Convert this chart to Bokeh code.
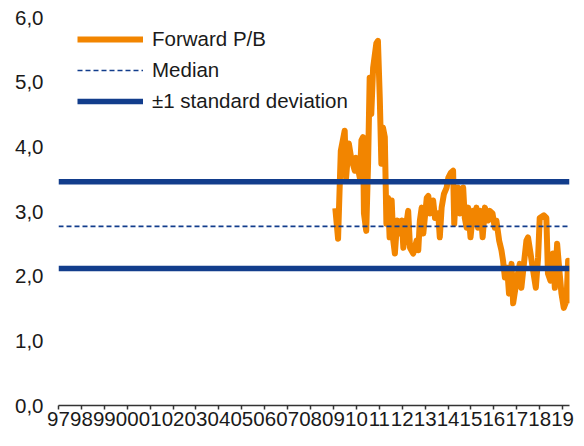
from bokeh.plotting import figure
from bokeh.models import FixedTicker, Legend, LegendItem
from bokeh.embed import file_html
from bokeh.resources import INLINE

# ---- data ----
years = [2009.08, 2009.20, 2009.32, 2009.49, 2009.55, 2009.67, 2009.77, 2009.93, 2009.98,
         2010.15, 2010.22, 2010.29, 2010.33, 2010.43, 2010.51, 2010.58, 2010.65, 2010.73,
         2010.87, 2010.94, 2011.02, 2011.09, 2011.16, 2011.24, 2011.31, 2011.38, 2011.45,
         2011.54, 2011.61, 2011.68, 2011.78, 2011.90, 2011.98, 2012.05, 2012.16, 2012.26,
         2012.34, 2012.48, 2012.63, 2012.70, 2012.77, 2012.85, 2012.92, 2013.07, 2013.14,
         2013.21, 2013.35, 2013.43, 2013.57, 2013.64, 2013.72, 2013.82, 2013.94, 2014.01,
         2014.12, 2014.22, 2014.27, 2014.34, 2014.44, 2014.52, 2014.66, 2014.73, 2014.81,
         2014.88, 2014.98, 2015.10, 2015.17, 2015.24, 2015.31, 2015.42, 2015.51, 2015.61,
         2015.75, 2015.82, 2015.94, 2016.04, 2016.11, 2016.23, 2016.33, 2016.40, 2016.48,
         2016.58, 2016.66, 2016.77, 2016.84, 2016.99, 2017.13, 2017.20, 2017.31, 2017.42,
         2017.49, 2017.60, 2017.71, 2017.83, 2017.93, 2018.00, 2018.18, 2018.29, 2018.36,
         2018.47, 2018.58, 2018.66, 2018.76, 2018.87, 2018.95, 2019.05, 2019.17, 2019.24,
         2019.28]
forward_pb = [3.05, 2.58, 3.94, 4.25, 3.52, 4.05, 3.83, 3.63, 3.83,
              3.52, 4.10, 4.15, 2.97, 2.70, 3.74, 5.07, 4.51, 5.22,
              5.60, 5.64, 4.76, 3.74, 4.30, 4.15, 2.81, 3.21, 2.60,
              3.17, 2.55, 2.35, 2.86, 2.66, 2.86, 2.44, 2.75, 3.01,
              2.44, 2.35, 2.55, 2.40, 2.86, 3.06, 2.66, 3.21, 3.24,
              2.97, 3.17, 2.90, 2.97, 2.60, 3.06, 3.27, 3.37, 3.52,
              3.60, 3.63, 2.81, 3.27, 3.37, 2.97, 3.37, 2.90, 2.75,
              3.06, 2.60, 3.01, 2.86, 3.06, 2.75, 3.01, 2.60, 3.06,
              2.86, 3.01, 2.97, 2.75, 2.86, 2.55, 2.40, 2.24, 1.98,
              2.13, 1.73, 2.19, 1.58, 1.93, 2.19, 1.82, 2.19, 2.55,
              2.60, 2.35, 2.09, 1.82, 2.29, 2.90, 2.94, 2.90, 2.04,
              1.93, 2.35, 1.82, 2.50, 2.04, 1.73, 1.51, 1.62, 2.24,
              1.58]
median_value = 2.77
std_upper = 3.46
std_lower = 2.12
x_start, x_end = 1997, 2019.3
year_ticks = list(range(1997, 2020))
year_labels = ["97", "98", "99", "00", "01", "02", "03", "04", "05", "06", "07", "08",
               "09", "10", "11", "12", "13", "14", "15", "16", "17", "18", "19"]
y_ticks = [0, 1, 2, 3, 4, 5, 6]
y_labels = ["0,0", "1,0", "2,0", "3,0", "4,0", "5,0", "6,0"]

ORANGE = "#F28500"
NAVY = "#123D8C"
TXT = "#1a1a1a"
FONT = "Liberation Sans"
FS = "20.5px"

p = figure(width=584, height=446, output_backend="svg", toolbar_location=None,
           x_range=(x_start, x_end), y_range=(0, 6),
           min_border_left=58, min_border_right=15, min_border_top=17, min_border_bottom=41)
p.outline_line_color = None
p.xgrid.visible = False
p.ygrid.visible = False
p.background_fill_color = "white"
p.border_fill_color = "white"

pb = p.line(years, forward_pb, line_color=ORANGE, line_width=6, line_join="round")
up = p.line([x_start, x_end], [std_upper, std_upper], line_color=NAVY, line_width=5.5)
lo = p.line([x_start, x_end], [std_lower, std_lower], line_color=NAVY, line_width=5.5)
md = p.line([x_start, x_end], [median_value, median_value], line_color=NAVY,
            line_width=1.6, line_dash="5 3")

# axes
xa = p.xaxis[0]
xa.ticker = FixedTicker(ticks=year_ticks)
xa.major_label_overrides = {t: l for t, l in zip(year_ticks, year_labels)}
xa.minor_tick_line_color = None
xa.major_tick_in = 0
xa.major_tick_out = 4
xa.major_tick_line_color = "#333333"
xa.major_tick_line_width = 1.5
xa.axis_line_color = "#333333"
xa.axis_line_width = 1.5
xa.major_label_standoff = 2
xa.major_label_text_font = FONT
xa.major_label_text_font_size = FS
xa.major_label_text_color = TXT

ya = p.yaxis[0]
ya.ticker = FixedTicker(ticks=y_ticks)
ya.major_label_overrides = {t: l for t, l in zip(y_ticks, y_labels)}
ya.minor_tick_line_color = None
ya.major_tick_line_color = None
ya.major_tick_in = 0
ya.major_tick_out = 0
ya.axis_line_color = None
ya.major_label_standoff = 15
ya.major_label_text_font = FONT
ya.major_label_text_font_size = FS
ya.major_label_text_color = TXT

legend = Legend(items=[
    LegendItem(label="Forward P/B", renderers=[pb]),
    LegendItem(label="Median", renderers=[md]),
    LegendItem(label="±1 standard deviation", renderers=[up]),
], location=(19, 292))
legend.margin = 0
legend.padding = 0
legend.spacing = 7
legend.glyph_width = 66
legend.glyph_height = 20
legend.label_height = 20
legend.label_standoff = 9
legend.background_fill_alpha = 0
legend.border_line_alpha = 0
legend.label_text_font = FONT
legend.label_text_font_size = FS
legend.label_text_color = TXT
p.add_layout(legend, "center")

open("out.html", "w").write(file_html(p, INLINE))
